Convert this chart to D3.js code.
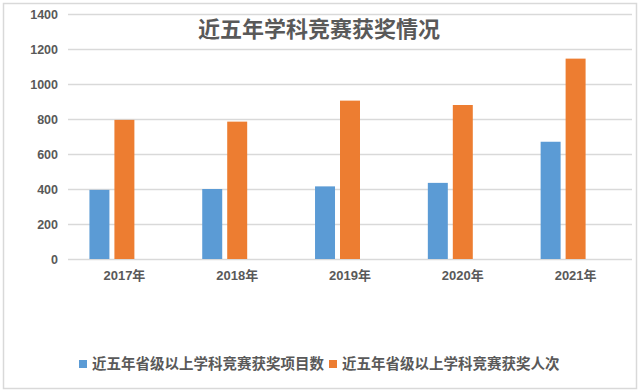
<!DOCTYPE html>
<html>
<head>
<meta charset="utf-8">
<script src="https://cdn.jsdelivr.net/npm/d3@7"></script>
<style>
  body { margin: 0; background: #fff; }
  svg { display: block; }
</style>
</head>
<body>
<svg id="chart"></svg>
<script>
const title = '近五年学科竞赛获奖情况';
const years = ['2017年', '2018年', '2019年', '2020年', '2021年'];
const seriesNames = ['近五年省级以上学科竞赛获奖项目数', '近五年省级以上学科竞赛获奖人次'];
const projects = [395, 400, 415, 435, 670];
const awardees = [795, 785, 905, 880, 1145];
const yTicks = [0, 200, 400, 600, 800, 1000, 1200, 1400];

const w = 640;
const h = 392;
const margin = { left: 68, right: 8, top: 14, bottom: 133 };
const colors = ['#5B9BD5', '#ED7D31'];
const font = '"Liberation Sans", "Noto Sans CJK SC", sans-serif';
const cjk = '"Noto Sans CJK SC", sans-serif';

const svg = d3.select('#chart')
  .attr('width', w)
  .attr('height', h);

// outer frame
svg.append('rect')
  .attr('x', 3.5).attr('y', 3.5)
  .attr('width', w - 7).attr('height', h - 7)
  .attr('fill', '#fff')
  .attr('stroke', '#D9D9D9')
  .attr('stroke-width', 1.5);

const x0 = d3.scaleBand()
  .domain(years)
  .range([margin.left, w - margin.right])
  .paddingInner(0.38)
  .paddingOuter(0.19);
// third slot left empty, like the source chart
const x1 = d3.scaleBand()
  .domain([0, 1, 2])
  .range([0, x0.bandwidth()])
  .paddingInner(0.2);
const y = d3.scaleLinear()
  .domain([0, 1400])
  .range([h - margin.bottom, margin.top]);

// gridlines + y labels
const yAxis = d3.axisLeft(y)
  .tickValues(yTicks)
  .tickFormat(d3.format('d'))
  .tickSize(-(w - margin.left - margin.right))
  .tickPadding(10);
const gy = svg.append('g')
  .attr('transform', `translate(${margin.left},0)`)
  .call(yAxis);
gy.select('.domain').remove();
gy.selectAll('line')
  .attr('stroke', '#D9D9D9')
  .attr('stroke-width', 1.5);
gy.selectAll('text')
  .attr('fill', '#595959')
  .attr('font-family', font)
  .attr('font-weight', 'bold')
  .attr('font-size', 12.5);

// bars
const groups = svg.append('g')
  .selectAll('g')
  .data(years)
  .join('g')
    .attr('transform', d => `translate(${x0(d)},0)`);

groups.selectAll('rect')
  .data((_, i) => [projects[i], awardees[i]])
  .join('rect')
    .attr('x', (_, j) => x1(j))
    .attr('y', y)
    .attr('width', x1.bandwidth())
    .attr('height', v => y(0) - y(v))
    .attr('fill', (_, j) => colors[j]);

// x labels
const xAxis = d3.axisBottom(x0).tickSize(0).tickPadding(12);
const gx = svg.append('g')
  .attr('transform', `translate(0,${y(0)})`)
  .call(xAxis);
gx.select('.domain').remove();
gx.selectAll('text')
  .attr('fill', '#595959')
  .attr('font-family', font)
  .attr('font-weight', 'bold')
  .attr('font-size', 13);

// title
svg.append('text')
  .attr('x', 319)
  .attr('y', 37)
  .attr('text-anchor', 'middle')
  .attr('fill', '#595959')
  .attr('font-family', cjk)
  .attr('font-weight', 'bold')
  .attr('font-size', 22)
  .text(title);

// legend
const legend = svg.append('g').attr('transform', 'translate(79,364)');
const itemX = [0, 250];
seriesNames.forEach((name, i) => {
  const g = legend.append('g').attr('transform', `translate(${itemX[i]},0)`);
  g.append('rect')
    .attr('x', 0).attr('y', -4)
    .attr('width', 8).attr('height', 8)
    .attr('fill', colors[i]);
  g.append('text')
    .attr('x', 13)
    .attr('y', 0)
    .attr('dy', '0.36em')
    .attr('fill', '#595959')
    .attr('font-family', cjk)
    .attr('font-weight', 'bold')
    .attr('font-size', 14.5)
    .text(name);
});
</script>
</body>
</html>
